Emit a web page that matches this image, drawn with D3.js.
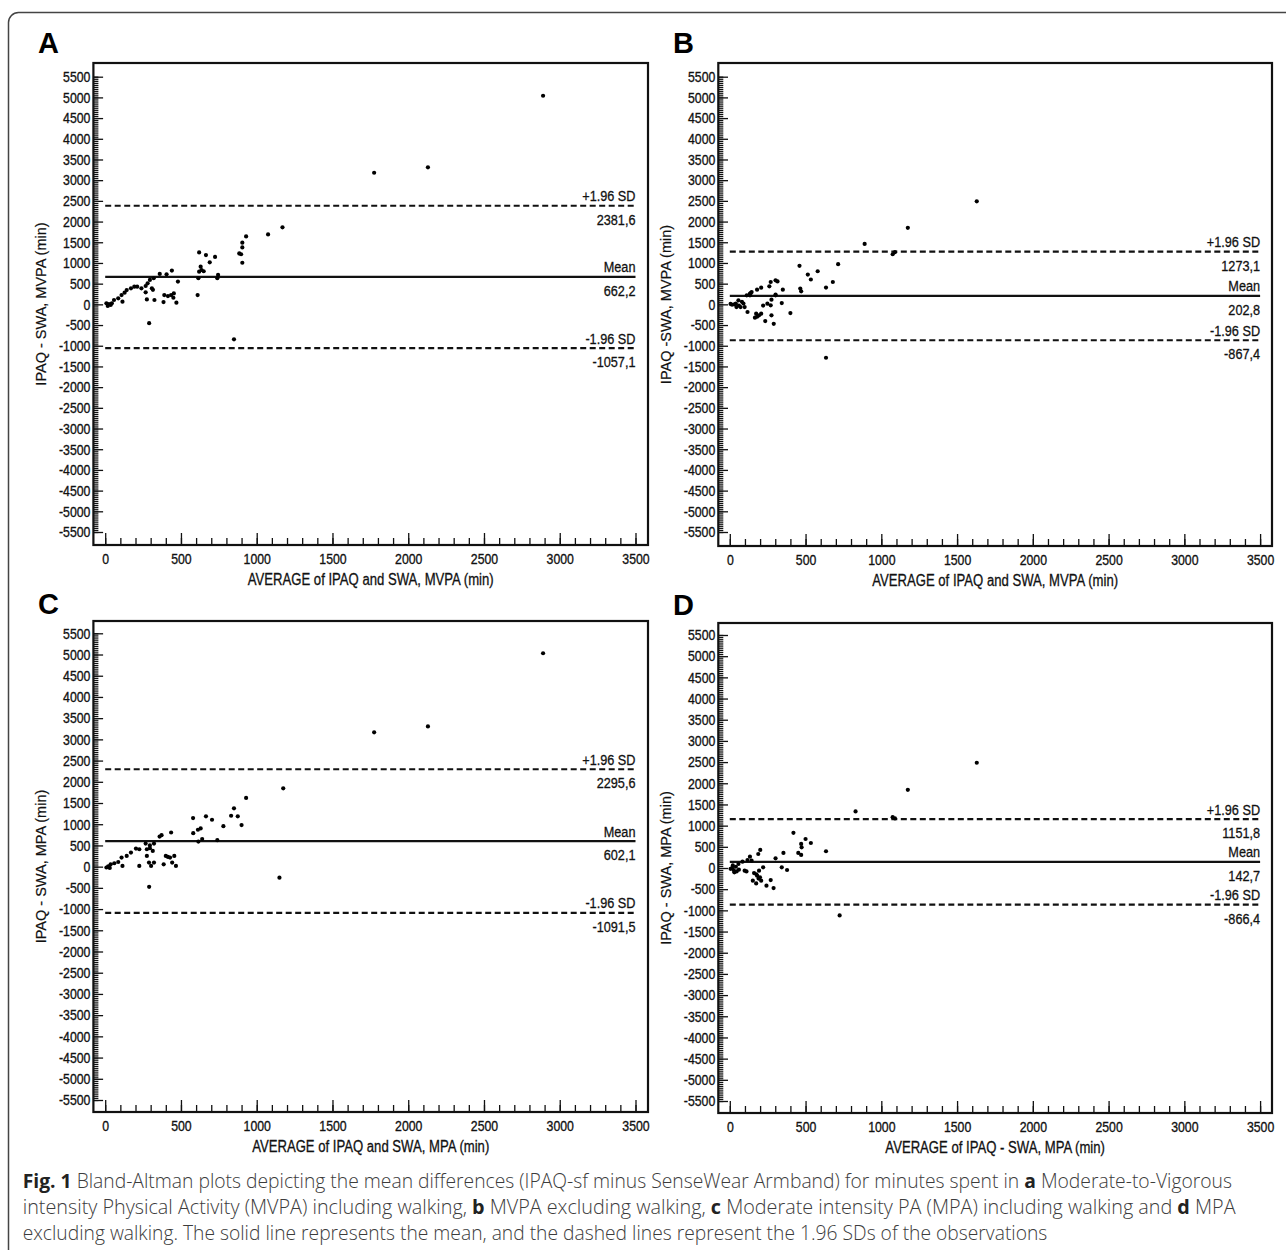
<!DOCTYPE html>
<html>
<head>
<meta charset="utf-8">
<script src="https://cdn.jsdelivr.net/npm/d3@7"></script>
<style>
  body { margin: 0; background: #fff; }
  svg { display: block; }
</style>
</head>
<body>
<svg id="fig" width="1286" height="1250"></svg>
<script>
// ---- data ----
var yTicks = d3.range(-5500, 5501, 500);
var xTicks = d3.range(0, 3501, 500);

// A: MVPA including walking
var avgA = [2890,1775,2130,1170,1075,930,905,905,885,897,905,620,665,725,690,630,636,620,650,615,745,740,610,480,440,405,360,320,295,280,267,308,315,267,275,325,390,414,385,435,453,450,470,239,211,192,170,142,128,108,114,86,58,44,25,8,17,36,290,850];
var diffA = [5040,3180,3310,1860,1690,1640,1490,1375,1230,1210,1005,1255,1190,1145,1015,910,830,790,800,630,710,630,225,550,815,725,735,630,590,507,443,386,350,290,120,105,225,200,55,225,265,160,40,386,427,427,386,346,282,225,64,145,105,24,8,24,-40,-16,-455,-845];

// B: MVPA excluding walking
var avgB = [1630,1175,890,1075,1090,715,460,515,580,535,680,635,465,471,350,315,302,270,261,207,180,139,133,302,343,275,270,635,400,290,275,234,207,193,174,166,180,117,98,71,44,30,15,5,57,80,133,144,112,248,220,302,60,40,90];
var diffB = [2490,1850,1460,1210,1260,970,930,720,800,600,540,405,380,315,355,555,580,540,435,403,355,274,218,234,32,113,-24,-1290,-210,-470,-266,-403,-226,-266,-226,-323,-300,-185,-65,-65,-65,0,-10,10,97,60,258,298,218,16,-30,218,-30,20,20];

// C: MPA including walking
var avgC = [2890,1775,2130,1175,930,850,831,875,900,780,665,705,580,581,630,612,640,615,740,1150,435,372,359,322,295,267,275,295,225,203,170,142,108,114,86,60,36,20,8,30,275,289,303,322,314,225,290,386,400,414,428,456,442,467];
var diffC = [5030,3165,3305,1845,1620,1375,1200,1185,980,955,1185,1105,1145,790,900,870,650,590,625,-260,805,742,710,544,500,544,410,434,410,426,331,252,213,16,110,80,55,10,-20,-30,252,95,16,95,371,16,-475,55,252,229,213,252,95,16];

// D: MPA excluding walking
var avgD = [1630,1175,830,1075,1090,420,500,535,471,474,452,471,635,354,302,343,378,201,188,133,117,144,84,57,30,98,193,220,180,199,152,174,242,289,270,207,725,15,5,40,25,60,110,160,190,175,20,45];
var diffD = [2485,1845,1335,1200,1170,830,685,590,568,489,355,308,395,355,229,16,-47,426,331,268,189,174,150,95,-103,-63,-63,16,-181,-221,-300,-363,-418,-473,-284,-300,-1120,0,-20,30,-50,-40,-80,-120,-250,-150,60,-80];

var meanVals  = [662.2, 202.8, 602.1, 142.7];
var upperVals = [2381.6, 1273.1, 2295.6, 1151.8];
var lowerVals = [-1057.1, -867.4, -1091.5, -866.4];

var panelLetters = ['A', 'B', 'C', 'D'];
var xLabels = [
    'AVERAGE of IPAQ and SWA, MVPA (min)',
    'AVERAGE of IPAQ and SWA, MVPA (min)',
    'AVERAGE of IPAQ and SWA, MPA (min)',
    'AVERAGE of IPAQ - SWA, MPA (min)'
];
var yLabels = [
    'IPAQ - SWA, MVPA (min)',
    'IPAQ -SWA, MVPA (min)',
    'IPAQ - SWA, MPA (min)',
    'IPAQ - SWA, MPA (min)'
];

var captionLines = [
    [['Fig. 1', 1], [' Bland-Altman plots depicting the mean differences (IPAQ-sf minus SenseWear Armband) for minutes spent in ', 0], ['a', 1], [' Moderate-to-Vigorous', 0]],
    [['intensity Physical Activity (MVPA) including walking, ', 0], ['b', 1], [' MVPA excluding walking, ', 0], ['c', 1], [' Moderate intensity PA (MPA) including walking and ', 0], ['d', 1], [' MPA', 0]],
    [['excluding walking. The solid line represents the mean, and the dashed lines represent the 1.96 SDs of the observations', 0]]
];

// ---- layout ----
var panels = [
    {avg: avgA, diff: diffA, lx: 38,  ly: 53,  fx0: 93.4,  fx1: 648,  fy0: 63,  fy1: 545,  xr: [105.2, 635.5], yr: [532, 76.7]},
    {avg: avgB, diff: diffB, lx: 673, ly: 53,  fx0: 718.3, fx1: 1272, fy0: 63,  fy1: 546,  xr: [729.8, 1260.1], yr: [532, 76.7]},
    {avg: avgC, diff: diffC, lx: 38,  ly: 614, fx0: 93.4,  fx1: 648,  fy0: 621, fy1: 1112, xr: [105.2, 635.5], yr: [1100, 633.3]},
    {avg: avgD, diff: diffD, lx: 673, ly: 615, fx0: 718.3, fx1: 1272, fy0: 623, fy1: 1113, xr: [729.8, 1260.1], yr: [1101, 635]}
];

// Narrow font if installed, otherwise squeeze the regular one.
function hasFont(name) {
    var c = document.createElement('canvas').getContext('2d'),
        probe = 'AVERAGE of IPAQ 2381,6 mmm',
        w0;
    c.font = '40px monospace';
    w0 = c.measureText(probe).width;
    c.font = "40px '" + name + "', monospace";
    return c.measureText(probe).width !== w0;
}
var narrowOk = hasFont('Liberation Sans Narrow');
var NARROW = narrowOk ? "'Liberation Sans Narrow', 'Liberation Sans', Arial, sans-serif" : "'Liberation Sans', Arial, sans-serif";
var SX = narrowOk ? 1 : 0.82;
var INK = '#111';

function fmt(v) {
    return v.toFixed(1).replace('.', ',');
}

var svg = d3.select('#fig');

// outer rounded frame (open at right/bottom)
svg.append('path')
    .attr('d', 'M8.5,1250 V22.5 A10,10 0 0 1 18.5,12.5 H1286')
    .attr('fill', 'none')
    .attr('stroke', '#444')
    .attr('stroke-width', 1.5);

// scanned print looks a touch heavier than plain glyphs
function ink(sel, w) {
    return sel.attr('fill', INK).attr('stroke', INK).attr('stroke-width', w).attr('paint-order', 'stroke');
}

function narrowText(g, x, y, str, size, anchor) {
    return ink(g.append('text')
        .attr('transform', 'translate(' + x + ',' + y + ') scale(' + SX + ',1)')
        .attr('text-anchor', anchor || 'start')
        .style('font-family', NARROW)
        .style('font-size', size + 'px')
        .text(str), 0.3);
}

panels.forEach(function (p, i) {
    var g = svg.append('g').attr('class', 'panel panel-' + panelLetters[i]),
        x = d3.scaleLinear().domain([0, 3500]).range(p.xr),
        y = d3.scaleLinear().domain([-5500, 5500]).range(p.yr),
        lineX0 = x(0), lineX1 = x(3500);

    // panel letter
    g.append('text')
        .attr('x', p.lx).attr('y', p.ly)
        .style('font-family', "'Liberation Sans', Arial, sans-serif")
        .style('font-size', '29px')
        .style('font-weight', 'bold')
        .attr('fill', '#000')
        .text(panelLetters[i]);

    // minor y ticks
    var yMinor = g.append('g')
        .attr('transform', 'translate(' + p.fx0 + ',0)')
        .call(d3.axisLeft(y).tickValues(d3.range(-5500, 5501, 50)).tickSize(-5).tickFormat(''));
    yMinor.select('.domain').remove();

    // major y ticks + labels
    var yAx = g.append('g')
        .attr('transform', 'translate(' + p.fx0 + ',0)')
        .call(d3.axisLeft(y).tickValues(yTicks).tickSize(-9.7).tickPadding(3)
            .tickFormat(function (d) { return String(d); }));
    yAx.select('.domain').remove();
    ink(yAx.selectAll('.tick text')
        .attr('x', -3 / SX)
        .attr('transform', 'scale(' + SX + ',1)')
        .style('font-family', NARROW)
        .style('font-size', '15px'), 0.35);

    // minor x ticks
    var xMinor = g.append('g')
        .attr('transform', 'translate(0,' + p.fy1 + ')')
        .call(d3.axisBottom(x).tickValues(d3.range(0, 3501, 100)).tickSize(-7).tickFormat(''));
    xMinor.select('.domain').remove();

    // major x ticks + labels
    var xAx = g.append('g')
        .attr('transform', 'translate(0,' + p.fy1 + ')')
        .call(d3.axisBottom(x).tickValues(xTicks).tickSize(-12).tickPadding(8)
            .tickFormat(function (d) { return String(d); }));
    xAx.select('.domain').remove();
    ink(xAx.selectAll('.tick text')
        .attr('transform', 'scale(' + SX + ',1)')
        .style('font-family', NARROW)
        .style('font-size', '15px'), 0.35);

    g.selectAll('.tick line').attr('stroke', INK).attr('stroke-width', 1.3);

    // plot frame
    g.append('rect')
        .attr('x', p.fx0).attr('y', p.fy0)
        .attr('width', p.fx1 - p.fx0).attr('height', p.fy1 - p.fy0)
        .attr('fill', 'none')
        .attr('stroke', INK)
        .attr('stroke-width', 2.2);

    // axis titles
    narrowText(g, (p.fx0 + p.fx1) / 2, p.fy1 + 40, xLabels[i], 16, 'middle');
    ink(g.append('text')
        .attr('transform', 'translate(' + (p.fx0 - 47) + ',' + ((p.fy0 + p.fy1) / 2) + ') rotate(-90)')
        .attr('text-anchor', 'middle')
        .style('font-family', "'Liberation Sans', Arial, sans-serif")
        .style('font-size', '14.5px')
        .text(yLabels[i]), 0.2);

    // mean and limits of agreement
    var refLines = [
        {v: upperVals[i], name: '+1.96 SD', dash: '6,3.5'},
        {v: meanVals[i],  name: 'Mean',     dash: null},
        {v: lowerVals[i], name: '-1.96 SD', dash: '6,3.5'}
    ];
    refLines.forEach(function (r) {
        var yy = y(r.v);
        g.append('line')
            .attr('x1', lineX0).attr('x2', lineX1)
            .attr('y1', yy).attr('y2', yy)
            .attr('stroke', INK)
            .attr('stroke-width', 2.2)
            .attr('stroke-dasharray', r.dash);
        narrowText(g, lineX1, yy - 4.5, r.name, 15.5, 'end');
        narrowText(g, lineX1, yy + 19, fmt(r.v), 15.5, 'end');
    });

    // observations
    g.append('g').selectAll('circle')
        .data(d3.zip(p.avg, p.diff))
        .enter().append('circle')
        .attr('cx', function (d) { return x(d[0]); })
        .attr('cy', function (d) { return y(d[1]); })
        .attr('r', 2.1)
        .attr('fill', '#000');
});

// caption, squeezed to the width of the printed lines
var capBase = [1188, 1214, 1240],
    capWidth = [1210, 1214, 1025];
captionLines.forEach(function (parts, k) {
    var t = svg.append('text')
        .style('font-family', "'Open Sans', 'Noto Sans', sans-serif")
        .style('font-size', '20px');
    parts.forEach(function (s) {
        t.append('tspan')
            .style('font-weight', s[1] ? 'bold' : '300')
            .attr('fill', s[1] ? '#222' : '#3c3c3c')
            .text(s[0]);
    });
    var w = t.node().getComputedTextLength();
    t.attr('transform', 'translate(22.7,' + capBase[k] + ') scale(' + (capWidth[k] / w) + ',1)');
});
</script>
</body>
</html>
